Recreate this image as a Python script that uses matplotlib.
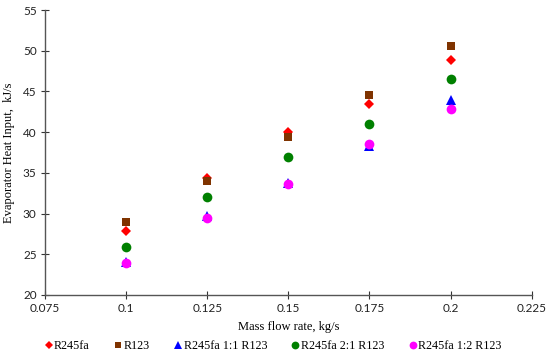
import matplotlib
matplotlib.use("Agg")
import matplotlib.pyplot as plt
from matplotlib.lines import Line2D

mass_flow = [0.1, 0.125, 0.15, 0.175, 0.2]
r245fa = [27.9, 34.4, 40.0, 43.4, 48.8]
r123 = [29.0, 34.0, 39.4, 44.6, 50.6]
mix_1_1 = [24.1, 29.7, 33.8, 38.3, 43.9]
mix_2_1 = [25.9, 32.0, 36.9, 41.0, 46.5]
mix_1_2 = [23.9, 29.5, 33.6, 38.5, 42.9]

series_names = ["R245fa", "R123", "R245fa 1:1 R123", "R245fa 2:1 R123", "R245fa 1:2 R123"]
x_ticks = [0.075, 0.1, 0.125, 0.15, 0.175, 0.2, 0.225]
x_tick_labels = ["0.075", "0.1", "0.125", "0.15", "0.175", "0.2", "0.225"]
y_ticks = [20, 25, 30, 35, 40, 45, 50, 55]

fig = plt.figure(figsize=(5.5, 3.54), dpi=100)
ax = fig.add_axes([0.0818, 0.1667, 0.885, 0.805])

styles = [
    dict(marker="D", color="#FF0000", ms=5.5),
    dict(marker="s", color="#7F3300", ms=5.5),
    dict(marker="^", color="#0000FF", ms=6.5),
    dict(marker="o", color="#008000", ms=7),
    dict(marker="o", color="#FF00FF", ms=7),
]
data = [r245fa, r123, mix_1_1, mix_2_1, mix_1_2]
handles = []
for name, ys, st in zip(series_names, data, styles):
    ax.plot(mass_flow, ys, linestyle="none", marker=st["marker"], color=st["color"],
            markersize=st["ms"], markeredgewidth=0, label=name)
    handles.append(Line2D([], [], linestyle="none", marker=st["marker"], color=st["color"],
                          markersize=st["ms"] * 0.8, markeredgewidth=0, label=name))

ax.set_xlim(0.075, 0.225)
ax.set_ylim(20, 55)
ax.set_xticks(x_ticks)
ax.set_xticklabels(x_tick_labels)
ax.set_yticks(y_ticks)
for s in ["top", "right"]:
    ax.spines[s].set_visible(False)
for s in ["left", "bottom"]:
    ax.spines[s].set_color("#555555")
    ax.spines[s].set_linewidth(1.0)
ax.tick_params(direction="inout", length=6, width=0.8, color="#333333",
               labelsize=8.5, labelcolor="#222222", pad=3)
for lab in ax.get_xticklabels() + ax.get_yticklabels():
    lab.set_family(["Lato", "DejaVu Sans"])

ax.set_xlabel("Mass flow rate, kg/s", family=["Liberation Serif"], fontsize=9, labelpad=5)
ax.set_ylabel("Evaporator Heat Input,  kJ/s", family=["Liberation Serif"], fontsize=9, labelpad=6)

fig.legend(handles=handles, loc="lower center", bbox_to_anchor=(0.495, -0.022), ncol=5,
           frameon=False, prop={"family": "Liberation Serif", "size": 8.7},
           handletextpad=0.0, columnspacing=1.9, handlelength=0.9, borderpad=0.3)

fig.savefig("out.png", dpi=100)
